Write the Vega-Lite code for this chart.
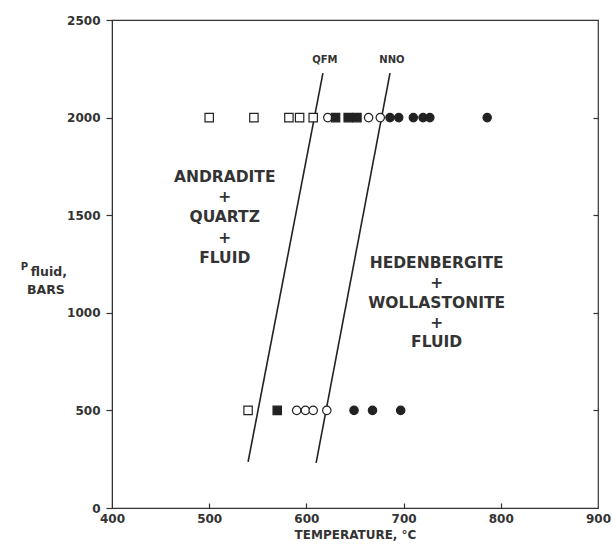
{
  "$schema": "https://vega.github.io/schema/vega-lite/v6.json",
  "width": 486,
  "height": 488,
  "autosize": "none",
  "padding": {"left": 112, "top": 20, "right": 14, "bottom": 38},
  "background": "white",
  "config": {
    "view": {"stroke": "#333", "strokeWidth": 1.2},
    "font": "DejaVu Sans",
    "axis": {"labelFont": "DejaVu Sans", "labelFontWeight": "bold", "labelFontSize": 12, "labelColor": "#333", "titleFont": "DejaVu Sans", "titleFontWeight": "bold", "titleFontSize": 12, "titleColor": "#333", "grid": false, "domainColor": "#333", "tickColor": "#333", "tickWidth": 1.2, "labelFlush": false, "format": "d"}
  },
  "resolve": {"axis": {"y": "independent", "x": "independent"}},
  "datasets": {
    "points": [
      {"T": 500, "P": 2000, "symbol": "square", "kind": "open"},
      {"T": 546, "P": 2000, "symbol": "square", "kind": "open"},
      {"T": 582, "P": 2000, "symbol": "square", "kind": "open"},
      {"T": 593, "P": 2000, "symbol": "square", "kind": "open"},
      {"T": 607, "P": 2000, "symbol": "square", "kind": "open"},
      {"T": 622, "P": 2000, "symbol": "circle", "kind": "open"},
      {"T": 630, "P": 2000, "symbol": "square", "kind": "filled"},
      {"T": 643, "P": 2000, "symbol": "square", "kind": "filled"},
      {"T": 652, "P": 2000, "symbol": "square", "kind": "filled"},
      {"T": 664, "P": 2000, "symbol": "circle", "kind": "open"},
      {"T": 676, "P": 2000, "symbol": "circle", "kind": "open"},
      {"T": 686, "P": 2000, "symbol": "circle", "kind": "filled"},
      {"T": 695, "P": 2000, "symbol": "circle", "kind": "filled"},
      {"T": 710, "P": 2000, "symbol": "circle", "kind": "filled"},
      {"T": 720, "P": 2000, "symbol": "circle", "kind": "filled"},
      {"T": 727, "P": 2000, "symbol": "circle", "kind": "filled"},
      {"T": 786, "P": 2000, "symbol": "circle", "kind": "filled"},
      {"T": 540, "P": 500, "symbol": "square", "kind": "open"},
      {"T": 570, "P": 500, "symbol": "square", "kind": "filled"},
      {"T": 590, "P": 500, "symbol": "circle", "kind": "open"},
      {"T": 599, "P": 500, "symbol": "circle", "kind": "open"},
      {"T": 607, "P": 500, "symbol": "circle", "kind": "open"},
      {"T": 621, "P": 500, "symbol": "circle", "kind": "open"},
      {"T": 649, "P": 500, "symbol": "circle", "kind": "filled"},
      {"T": 668, "P": 500, "symbol": "circle", "kind": "filled"},
      {"T": 697, "P": 500, "symbol": "circle", "kind": "filled"}
    ],
    "lines": [
      {"line": "QFM", "T": 540, "P": 236},
      {"line": "QFM", "T": 617, "P": 2228},
      {"line": "NNO", "T": 610, "P": 231},
      {"line": "NNO", "T": 686, "P": 2228}
    ],
    "qn": [
      {"text": "QFM", "T": 619, "P": 2295},
      {"text": "NNO", "T": 688, "P": 2295}
    ],
    "ylab": [
      {"text": "fluid,", "T": 335, "P": 1209},
      {"text": "BARS", "T": 332, "P": 1117}
    ],
    "big": [
      {"text": "ANDRADITE", "T": 516, "P": 1696},
      {"text": "+", "T": 516, "P": 1593},
      {"text": "QUARTZ", "T": 516, "P": 1491},
      {"text": "+", "T": 516, "P": 1385},
      {"text": "FLUID", "T": 516, "P": 1281},
      {"text": "HEDENBERGITE", "T": 734, "P": 1255},
      {"text": "+", "T": 734, "P": 1153},
      {"text": "WOLLASTONITE", "T": 734, "P": 1048},
      {"text": "+", "T": 734, "P": 948},
      {"text": "FLUID", "T": 734, "P": 850}
    ],
    "plabel": [
      {"text": "P", "T": 310, "P": 1235}
    ]
  },
  "layer": [
    {
      "data": {"name": "lines"},
      "mark": {"type": "line", "color": "#222", "strokeWidth": 1.6, "clip": false},
      "encoding": {
        "x": {"field": "T", "type": "quantitative", "scale": {"domain": [400, 900], "nice": false}, "axis": {"values": [400, 500, 600, 700, 800, 900], "title": "TEMPERATURE, °C", "ticks": false, "labelPadding": 5, "titlePadding": 5}},
        "y": {"field": "P", "type": "quantitative", "scale": {"domain": [0, 2500], "nice": false}, "axis": {"orient": "left", "values": [0, 500, 1000, 1500, 2000, 2500], "title": null, "tickSize": 6, "labelPadding": 6}},
        "detail": {"field": "line"}
      }
    },
    {
      "data": {"name": "lines"},
      "mark": {"type": "point", "opacity": 0},
      "encoding": {
        "x": {"field": "T", "type": "quantitative", "axis": {"orient": "bottom", "values": [500, 600, 700, 800], "labels": false, "title": null, "tickSize": 5, "offset": -5, "domain": false}},
        "y": {"field": "P", "type": "quantitative", "axis": {"orient": "right", "values": [500, 1000, 1500, 2000], "labels": false, "title": null, "tickSize": 5, "offset": -5, "domain": false}}
      }
    },
    {
      "data": {"name": "points"},
      "mark": {"type": "point", "filled": true, "opacity": 1, "size": 70, "stroke": "#222", "strokeWidth": 1.2},
      "encoding": {
        "x": {"field": "T", "type": "quantitative", "axis": null},
        "y": {"field": "P", "type": "quantitative", "axis": null},
        "shape": {"field": "symbol", "type": "nominal", "scale": {"domain": ["square", "circle"], "range": ["square", "circle"]}, "legend": null},
        "fill": {"field": "kind", "type": "nominal", "scale": {"domain": ["filled", "open"], "range": ["#222", "white"]}, "legend": null}
      }
    },
    {
      "data": {"name": "big"},
      "mark": {"type": "text", "font": "DejaVu Sans", "fontWeight": "bold", "fontSize": 15.5, "color": "#333", "align": "center", "baseline": "middle"},
      "encoding": {
        "x": {"field": "T", "type": "quantitative", "axis": null},
        "y": {"field": "P", "type": "quantitative", "axis": null},
        "text": {"field": "text"}
      }
    },
    {
      "data": {"name": "qn"},
      "mark": {"type": "text", "font": "DejaVu Sans", "fontWeight": "bold", "fontSize": 10, "color": "#333", "align": "center", "baseline": "middle"},
      "encoding": {
        "x": {"field": "T", "type": "quantitative", "axis": null},
        "y": {"field": "P", "type": "quantitative", "axis": null},
        "text": {"field": "text"}
      }
    },
    {
      "data": {"name": "ylab"},
      "mark": {"type": "text", "font": "DejaVu Sans", "fontWeight": "bold", "fontSize": 12.5, "color": "#333", "align": "center", "baseline": "middle"},
      "encoding": {
        "x": {"field": "T", "type": "quantitative", "axis": null},
        "y": {"field": "P", "type": "quantitative", "axis": null},
        "text": {"field": "text"}
      }
    },
    {
      "data": {"name": "plabel"},
      "mark": {"type": "text", "font": "DejaVu Sans", "fontWeight": "bold", "fontSize": 10, "color": "#333", "align": "center", "baseline": "middle"},
      "encoding": {
        "x": {"field": "T", "type": "quantitative", "axis": null},
        "y": {"field": "P", "type": "quantitative", "axis": null},
        "text": {"field": "text"}
      }
    }
  ]
}
